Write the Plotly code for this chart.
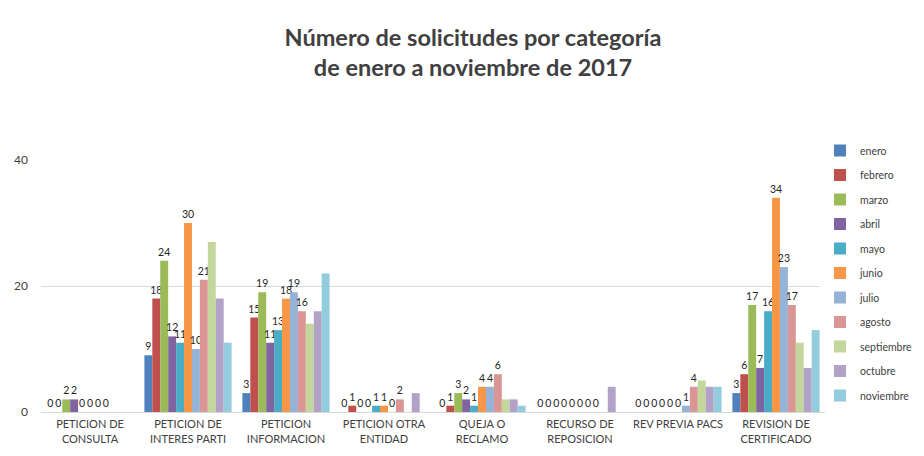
import plotly.graph_objects as go

categories = ["PETICION DE<br>CONSULTA", "PETICION DE<br>INTERES PARTI", "PETICION<br>INFORMACION",
              "PETICION OTRA<br>ENTIDAD", "QUEJA O<br>RECLAMO", "RECURSO DE<br>REPOSICION",
              "REV PREVIA PACS", "REVISION DE<br>CERTIFICADO"]

months = ["enero", "febrero", "marzo", "abril", "mayo", "junio", "julio", "agosto",
          "septiembre", "octubre", "noviembre"]

enero = [0, 9, 3, 0, 0, 0, 0, 3]
febrero = [0, 18, 15, 1, 1, 0, 0, 6]
marzo = [2, 24, 19, 0, 3, 0, 0, 17]
abril = [2, 12, 11, 0, 2, 0, 0, 7]
mayo = [0, 11, 13, 1, 1, 0, 0, 16]
junio = [0, 30, 18, 1, 4, 0, 0, 34]
julio = [0, 10, 19, 0, 4, 0, 1, 23]
agosto = [0, 21, 16, 2, 6, 0, 4, 17]
septiembre = [0, 27, 14, 0, 2, 0, 5, 11]
octubre = [0, 18, 16, 3, 2, 4, 4, 7]
noviembre = [0, 11, 22, 0, 1, 0, 4, 13]

series = [enero, febrero, marzo, abril, mayo, junio, julio, agosto, septiembre, octubre, noviembre]
labeled = [True] * 8 + [False] * 3

colors = ["#4F81BD", "#C0504D", "#9BBB59", "#8064A2", "#4BACC6", "#F79646",
          "#95B3D7", "#D99694", "#C3D69B", "#B3A2C7", "#93CDDD"]

FONT = "Lato"
W, H = 916, 448  # page body has an 8px margin

fig = go.Figure()
for i, (name, vals) in enumerate(zip(months, series)):
    fig.add_trace(go.Bar(
        name=name, x=categories, y=vals,
        marker=dict(color=colors[i], line=dict(width=0)),
        text=[str(v) for v in vals] if labeled[i] else None,
        textposition="outside" if labeled[i] else "none",
        textangle=0,
        textfont=dict(family=FONT, size=10.5, color="#262626"),
        cliponaxis=False,
        legendgroup=name,
    ))

fig.update_layout(
    width=W, height=H,
    paper_bgcolor="white", plot_bgcolor="white",
    margin=dict(l=33, r=99, t=152, b=44, autoexpand=False),
    barmode="group", bargap=0.11, bargroupgap=0,
    uniformtext=dict(minsize=10, mode="show"),
    font=dict(family=FONT, size=11, color="#404040"),
    title=dict(
        text="<b>Número de solicitudes por categoría<br>de enero a noviembre de 2017</b>",
        x=465 / W, xanchor="center", xref="container",
        y=1 - 37.5 / H, yanchor="middle", yref="container",
        font=dict(family=FONT, size=23.5, color="#404040"),
    ),
    legend=dict(
        xref="container", yref="container",
        x=812 / W, xanchor="left", y=1 - 128 / H, yanchor="top",
        font=dict(family=FONT, size=10.5, color="#404040"),
        tracegroupgap=5.5, itemwidth=30, maxheight=440,
    ),
    xaxis=dict(
        showgrid=False, showline=True, linecolor="#D9D9D9", linewidth=1,
        ticks="", tickfont=dict(family=FONT, size=11, color="#404040"),
        automargin=False, ticklabelstandoff=2,
    ),
    yaxis=dict(
        range=[0, 40], tickvals=[0, 20, 40], showgrid=True, gridcolor="#D9D9D9",
        zeroline=False, showline=False, ticks="", ticklabelstandoff=12,
        tickfont=dict(family=FONT, size=12, color="#404040"), automargin=False,
    ),
    showlegend=True,
)

fig.add_shape(type="line", xref="paper", yref="paper",
              x0=-35 / 784, x1=-35 / 784, y0=-0.3, y1=1.7,
              line=dict(color="#D9D9D9", width=1))

fig.write_html("out.html")
